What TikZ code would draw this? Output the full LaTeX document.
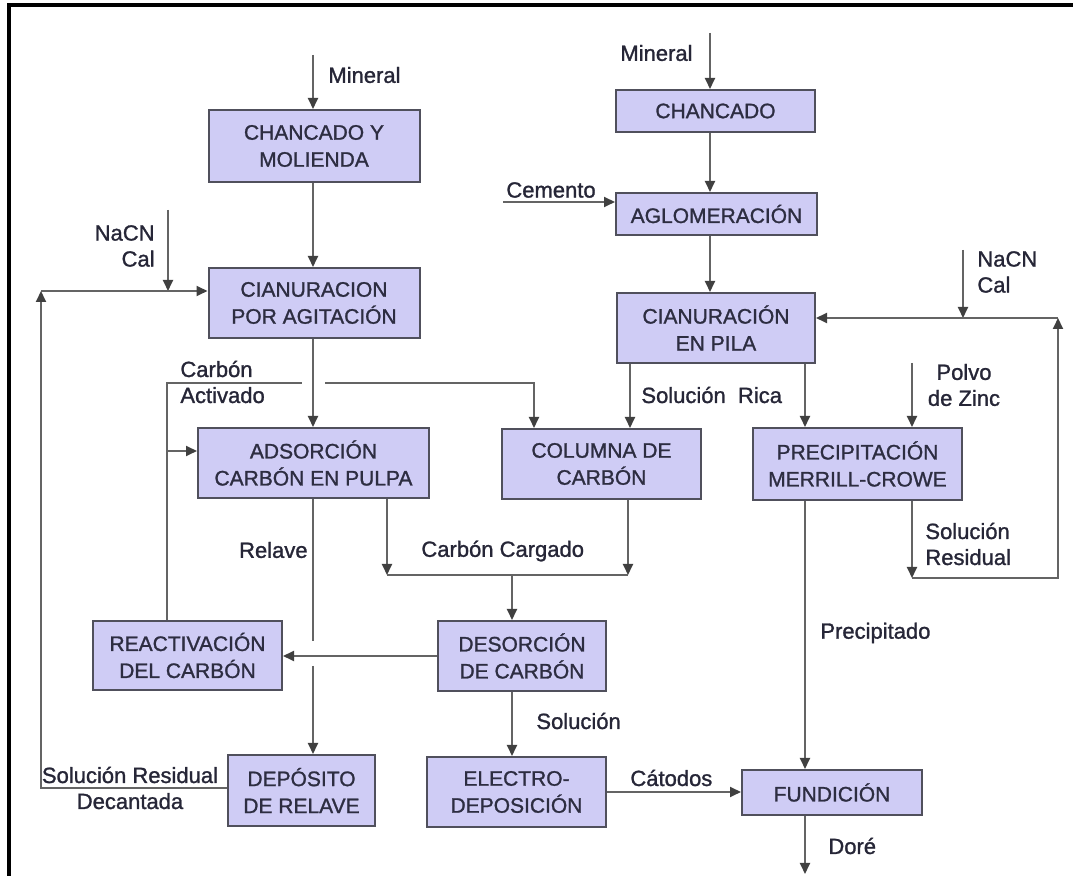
\documentclass[tikz,border=0pt]{standalone}
\usepackage{fontspec}
\setmainfont{Liberation Sans}
\newfontfamily\gruesa[FakeBold=1.2]{Liberation Sans}
\usetikzlibrary{arrows.meta}
\definecolor{caja}{RGB}{207,204,245}
\definecolor{gris}{RGB}{100,100,100}
\definecolor{borde}{RGB}{80,80,92}
\definecolor{texto}{RGB}{45,45,65}

\begin{document}
\begin{tikzpicture}[x=0.5pt,y=-0.5pt,
	proceso/.style={draw=borde, line width=1pt, fill=caja, text=texto, align=center, inner sep=0pt, font=\gruesa\fontsize{10.5}{13.5}\selectfont},
	conector/.style={draw=gris, line width=0.9pt},
	flujo/.style={conector, -{Triangle[length=5.5pt,width=5pt,color=black!75]}},
	etiqueta/.style={inner sep=0pt, text=texto!85!black, font=\gruesa\fontsize{11}{13}\selectfont}]

	\fill[white] (0,0) rectangle (1073,876);
	\useasboundingbox (0,0) rectangle (1073,876);
	\draw[line width=1.75pt] (9,876) -- (9,5) -- (1073,5);

	% cajas
	\foreach \n/\x/\y/\w/\h/\t in {
		chm/314/146/211/72/{CHANCADO Y\\MOLIENDA},
		cpa/314/303/211/70/{CIANURACION\\POR AGITACIÓN},
		acp/313.5/463/231/70/{ADSORCIÓN\\CARBÓN EN PULPA},
		col/601.5/464/199/70/{COLUMNA DE\\CARBÓN},
		rea/187.5/655.5/189/69/{REACTIVACIÓN\\DEL CARBÓN},
		des/522/656/168/70/{DESORCIÓN\\DE CARBÓN},
		dep/301.5/790.5/147/71/{DEPÓSITO\\DE RELAVE},
		ele/516.5/792/179/70/{ELECTRO-\\DEPOSICIÓN},
		chc/715.5/111/199/42/{CHANCADO},
		agl/716.5/214/201/42/{AGLOMERACIÓN},
		pil/716/328/198/70/{CIANURACIÓN\\EN PILA},
		pmc/857.5/464/209/72/{PRECIPITACIÓN\\MERRILL-CROWE},
		fun/832/792.5/180/45/{FUNDICIÓN}} {
		\node[proceso, minimum width=\w*0.5pt, minimum height=\h*0.5pt] (\n) at (\x,\y) {\t};
	}

	% lado izquierdo
	\coordinate (minA) at (313,55);
	\draw[flujo] (minA) -- (minA |- chm.north);
	\draw[flujo] (chm.south -| minA) -- (cpa.north -| minA);
	\draw[flujo] (cpa.south -| minA) -- (acp.north -| minA);

	\coordinate (nacnA) at (168,210);
	\coordinate (retA) at (41,291);
	\coordinate (retB) at (41,788);
	\draw[flujo] (nacnA) -- (nacnA |- retA);
	\draw[flujo] (retA) -- (retA -| cpa.west);
	\draw[flujo] (retB -| dep.west) -- (retB) -- (retA);

	\coordinate (caA) at (167,383);
	\coordinate (caB) at (167,451);
	\coordinate (caC) at (534,383);
	\coordinate (cortA) at (302,383);
	\coordinate (cortB) at (325,383);
	\draw[conector] (rea.north -| caA) -- (caA) -- (cortA);
	\draw[flujo] (cortB) -- (caC) -- (caC |- col.north);
	\draw[flujo] (caB) -- (caB -| acp.west);

	\coordinate (rvA) at (313,641);
	\coordinate (rvB) at (313,666);
	\draw[conector] (acp.south -| rvA) -- (rvA);
	\draw[flujo] (rvB) -- (rvB |- dep.north);

	\coordinate (ccA) at (387,575);
	\coordinate (ccB) at (628,575);
	\coordinate (ccC) at (512,575);
	\draw[flujo] (acp.south -| ccA) -- (ccA);
	\draw[flujo] (col.south -| ccB) -- (ccB);
	\draw[conector] (ccA) -- (ccB);
	\draw[flujo] (ccC) -- (ccC |- des.north);
	\draw[flujo] (des.south -| ccC) -- (ele.north -| ccC);
	\draw[flujo] (des.west) -- (des.west -| rea.east);
	\draw[flujo] (ele.east) -- (ele.east -| fun.west);

	% lado derecho
	\coordinate (minB) at (710,33);
	\draw[flujo] (minB) -- (minB |- chc.north);
	\draw[flujo] (chc.south -| minB) -- (agl.north -| minB);
	\draw[flujo] (agl.south -| minB) -- (pil.north -| minB);
	\coordinate (cem) at (503,202);
	\draw[flujo] (cem) -- (cem -| agl.west);

	\coordinate (srA) at (630,363);
	\coordinate (ppA) at (805,363);
	\coordinate (zinc) at (912,363);
	\draw[flujo] (pil.south -| srA) -- (col.north -| srA);
	\draw[flujo] (pil.south -| ppA) -- (pmc.north -| ppA);
	\draw[flujo] (zinc) -- (zinc |- pmc.north);

	\coordinate (nacnB) at (963,250);
	\coordinate (rtA) at (1058,318);
	\coordinate (rtB) at (1058,578);
	\draw[flujo] (nacnB) -- (nacnB |- rtA);
	\draw[flujo] (rtA) -- (rtA -| pil.east);
	\draw[flujo] (pmc.south -| zinc) -- (zinc |- rtB);
	\draw[flujo] (zinc |- rtB) -- (rtB) -- (rtA);

	\coordinate (dore) at (805,874);
	\draw[flujo] (pmc.south -| ppA) -- (fun.north -| ppA);
	\draw[flujo] (fun.south -| ppA) -- (dore);

	% etiquetas
	\node[etiqueta, anchor=west] (lMinA) at (328,75) {Mineral};
	\node[etiqueta, anchor=east, align=right] (lNacnA) at (155,246) {NaCN\\Cal};
	\node[etiqueta, anchor=west, align=left] (lCarb) at (180,382) {Carbón\\Activado};
	\node[etiqueta, anchor=east] (lRel) at (308,550) {Relave};
	\node[etiqueta, align=center] (lSrd) at (130,788) {Solución Residual\\Decantada};
	\node[etiqueta, anchor=west] (lCc) at (421,551) {Carbón Cargado};
	\node[etiqueta, anchor=west] (lSol) at (536,721) {Solución};
	\node[etiqueta, anchor=west] (lCat) at (630,778) {Cátodos};
	\node[etiqueta, anchor=west] (lMinB) at (620,53) {Mineral};
	\node[etiqueta, anchor=west] (lCem) at (506,190) {Cemento};
	\node[etiqueta, anchor=west] (lRica) at (641,395) {Solución\ \ Rica};
	\node[etiqueta, anchor=west, align=left] (lNacnB) at (977,272) {NaCN\\Cal};
	\node[etiqueta, align=center] (lZinc) at (964,385) {Polvo\\de Zinc};
	\node[etiqueta, anchor=west, align=left] (lSres) at (925,544) {Solución\\Residual};
	\node[etiqueta, anchor=west] (lPre) at (820,633) {Precipitado};
	\node[etiqueta, anchor=west] (lDore) at (828,846) {Doré};

\end{tikzpicture}
\end{document}
